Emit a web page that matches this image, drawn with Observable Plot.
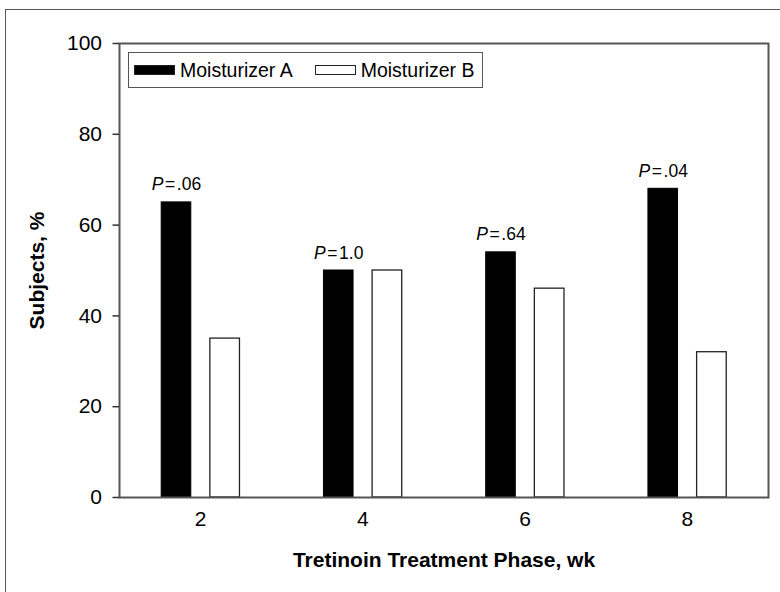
<!DOCTYPE html>
<html><head><meta charset="utf-8">
<script src="https://cdn.jsdelivr.net/npm/d3@7"></script>
<script src="https://cdn.jsdelivr.net/npm/@observablehq/plot@0.6"></script>
<style>
body{margin:0;background:#fff;font-family:"Liberation Sans",Arial,Helvetica,sans-serif;}
#wrap{position:relative;width:780px;height:592px;overflow:hidden;background:#fff}
#border{position:absolute;left:5px;top:9px;width:900px;height:900px;border:1.5px solid #555;box-sizing:border-box}
#chart{position:absolute;left:0;top:0}
#legend{position:absolute;left:128px;top:52px;width:355px;height:36px;box-sizing:border-box;border:1.5px solid #555;display:flex;align-items:center;padding-left:5px;font-size:19.5px;color:#000;background:#fff}
#legend .sw{display:inline-block;width:41px;height:10px;box-sizing:border-box;border:1.3px solid #222;margin-right:5px}
#legend .item{display:flex;align-items:center}
#legend .item + .item{margin-left:22px}
</style>
</head><body>
<div id="wrap"><div id="border"></div><div id="chart"></div><div id="legend"></div></div>
<script>
const weeks = [2, 4, 6, 8];
const seriesNames = ["Moisturizer A", "Moisturizer B"];
const seriesFills = ["#000", "#fff"];
const valuesA = [65, 50, 54, 68];
const valuesB = [35, 50, 46, 32];
const pLabels = ["P=.06", "P=1.0", "P=.64", "P=.04"];
const yTicks = [0, 20, 40, 60, 80, 100];
const xTitle = "Tretinoin Treatment Phase, wk";
const yTitle = "Subjects, %";

// layout: bar extents relative to each week (in week units)
const offA = [-0.48, -0.115];
const offB = [0.12, 0.485];

const rowsA = weeks.map((w, i) => ({week: w, value: valuesA[i], p: pLabels[i]}));
const rowsB = weeks.map((w, i) => ({week: w, value: valuesB[i]}));

const plot = Plot.plot({
  width: 780, height: 592,
  marginLeft: 119, marginRight: 12, marginTop: 43, marginBottom: 95,
  x: {domain: [1, 9]},
  y: {domain: [0, 100]},
  style: {fontFamily: '"Liberation Sans", Arial, Helvetica, sans-serif', fontSize: "21px", color: "#000", background: "transparent", overflow: "visible"},
  marks: [
    Plot.rectY(rowsA, {x1: d => d.week + offA[0], x2: d => d.week + offA[1], y1: 0, y2: "value", fill: seriesFills[0], stroke: "#000", strokeWidth: 1}),
    Plot.rectY(rowsB, {x1: d => d.week + offB[0], x2: d => d.week + offB[1], y1: 0, y2: "value", fill: seriesFills[1], stroke: "#222", strokeWidth: 1.3}),
    Plot.text(rowsA, {x: d => d.week + (offA[0] + offA[1]) / 2, y: "value", text: "p", dy: -12, lineAnchor: "bottom", fontSize: 17.5}),
    Plot.frame({stroke: "#555", strokeWidth: 2}),
    Plot.axisX(weeks, {tickSize: 0, tickPadding: 14, label: null, tickFormat: d => String(d)}),
    Plot.axisY(yTicks, {tickSize: 6.5, tickPadding: 11, label: null, stroke: "#333", strokeWidth: 1.5}),
    Plot.text([xTitle], {frameAnchor: "bottom", dy: 63, lineAnchor: "middle", textAnchor: "middle", fontWeight: "bold", fontSize: 21}),
    Plot.text([yTitle], {frameAnchor: "left", dx: -82, rotate: -90, lineAnchor: "middle", textAnchor: "middle", fontWeight: "bold", fontSize: 21})
  ]
});

// italic P in the p-value labels
plot.querySelectorAll("text").forEach(t => {
  const s = t.textContent;
  if (/^P=/.test(s)) {
    t.textContent = "";
    const ns = "http://www.w3.org/2000/svg";
    const a = document.createElementNS(ns, "tspan");
    a.setAttribute("font-style", "italic");
    a.textContent = "P";
    const b = document.createElementNS(ns, "tspan");
    b.setAttribute("dx", "1.5");
    b.textContent = "=";
    const c = document.createElementNS(ns, "tspan");
    c.setAttribute("dx", "1.5");
    c.textContent = s.slice(2);
    t.appendChild(a); t.appendChild(b); t.appendChild(c);
  }
});

document.getElementById("chart").appendChild(plot);

const legend = document.getElementById("legend");
seriesNames.forEach((name, i) => {
  const item = document.createElement("div");
  item.className = "item";
  const sw = document.createElement("span");
  sw.className = "sw";
  sw.style.background = seriesFills[i];
  item.appendChild(sw);
  const tx = document.createElement("span");
  tx.textContent = name;
  item.appendChild(tx);
  legend.appendChild(item);
});
</script>
</body></html>
